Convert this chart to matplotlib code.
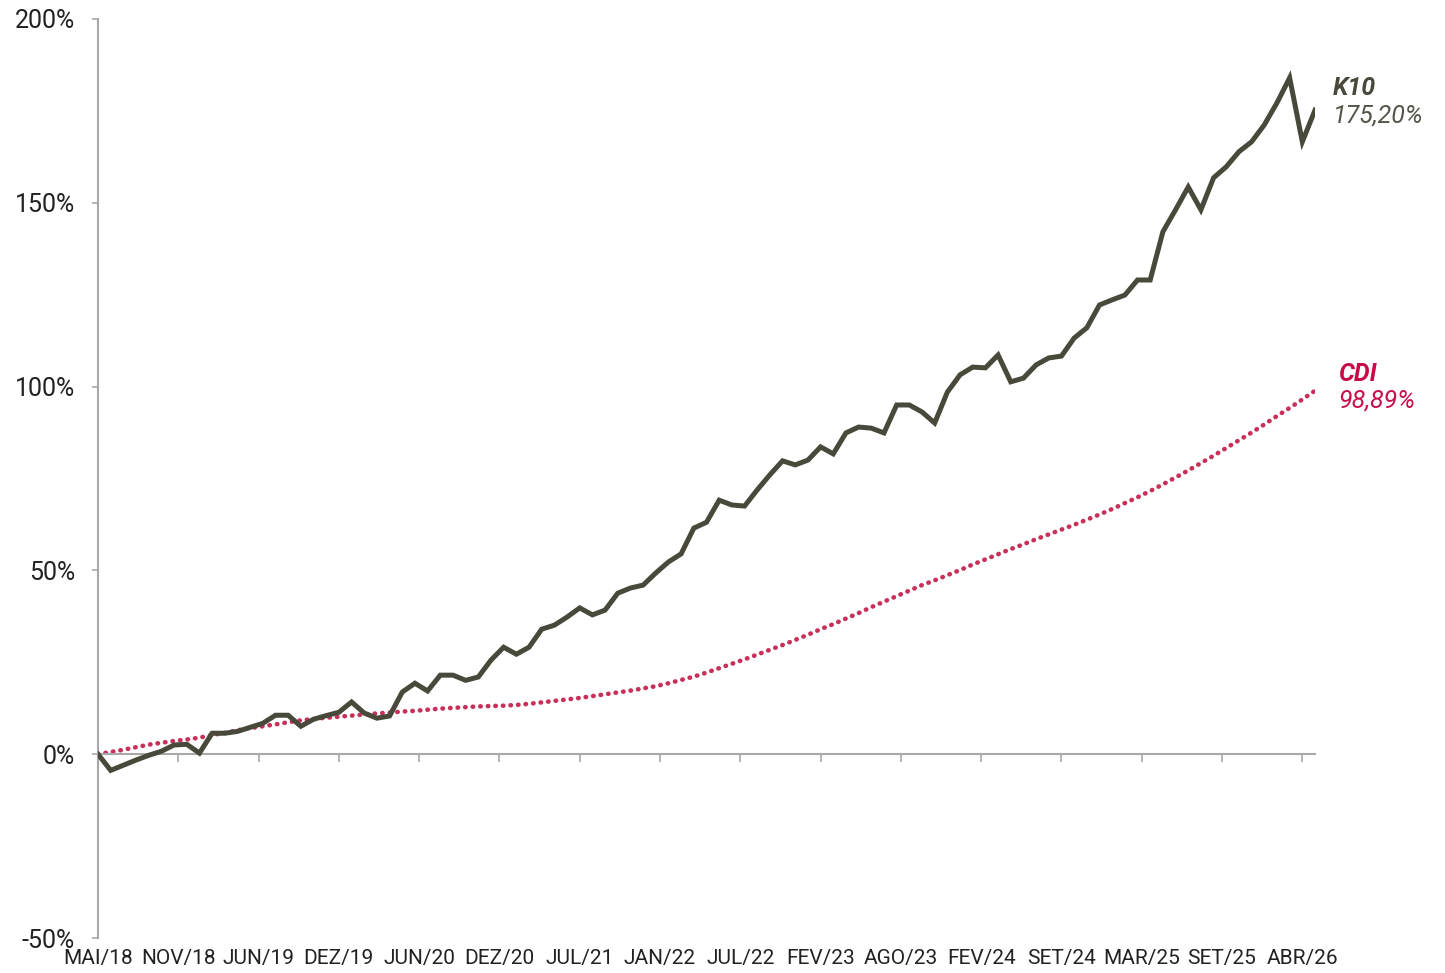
import numpy as np
import matplotlib
matplotlib.use("Agg")
import matplotlib.pyplot as plt

# monthly accumulated return (%), MAI/18 .. MAI/26
k10 = [0.0, -4.4, -3.0, -1.6, -0.3, 0.8, 2.5, 2.7, 0.3, 5.7,
       5.7, 6.2, 7.3, 8.4, 10.6, 10.6, 7.6, 9.5, 10.5, 11.4,
       14.2, 11.2, 9.8, 10.4, 16.9, 19.3, 17.2, 21.5, 21.5, 20.1,
       21.0, 25.6, 29.1, 27.2, 29.1, 34.0, 35.1, 37.3, 39.8, 37.9,
       39.2, 43.8, 45.2, 46.0, 49.3, 52.3, 54.5, 61.5, 63.1, 69.1,
       67.8, 67.5, 71.9, 76.0, 79.8, 78.7, 80.0, 83.6, 81.7, 87.4,
       89.0, 88.7, 87.4, 95.0, 95.0, 93.1, 90.1, 98.5, 103.2, 105.3,
       105.1, 108.6, 101.3, 102.3, 105.9, 107.8, 108.3, 113.2, 116.0, 122.2,
       123.6, 124.9, 129.0, 129.0, 142.1, 148.1, 154.3, 148.1, 156.8, 159.8,
       163.9, 166.6, 171.2, 177.2, 184.0, 166.6, 175.2]

cdi = [0.0, 0.6, 1.2, 1.9, 2.6, 3.1, 3.6, 4.0, 4.5, 5.2,
       5.8, 6.5, 7.1, 7.6, 8.1, 8.7, 9.2, 9.6, 9.9, 10.2,
       10.5, 10.8, 11.1, 11.3, 11.6, 11.8, 12.1, 12.4, 12.6, 12.8,
       13.0, 13.1, 13.2, 13.4, 13.7, 14.1, 14.5, 14.9, 15.3, 15.8,
       16.3, 16.8, 17.3, 17.9, 18.5, 19.3, 20.2, 21.1, 22.2, 23.4,
       24.6, 25.8, 27.1, 28.4, 29.7, 31.1, 32.5, 34.0, 35.4, 36.9,
       38.4, 40.0, 41.5, 43.0, 44.5, 46.0, 47.3, 48.7, 50.1, 51.6,
       53.0, 54.4, 55.8, 57.1, 58.5, 59.8, 61.1, 62.4, 63.8, 65.2,
       66.7, 68.3, 69.9, 71.6, 73.4, 75.3, 77.2, 79.2, 81.2, 83.3,
       85.4, 87.5, 89.7, 92.0, 94.2, 96.5, 98.89]

x_labels = ["MAI/18", "NOV/18", "JUN/19", "DEZ/19", "JUN/20", "DEZ/20",
            "JUL/21", "JAN/22", "JUL/22", "FEV/23", "AGO/23", "FEV/24",
            "SET/24", "MAR/25", "SET/25", "ABR/26"]
y_ticks = [-50, 0, 50, 100, 150, 200]

k10_color = "#48493a"
cdi_color = "#c8305a"
axis_color = "#a8a8a8"

plt.rcParams["font.family"] = ["Roboto", "DejaVu Sans"]

fig = plt.figure(figsize=(14.45, 9.73), dpi=100)
ax = fig.add_axes([98 / 1445, 1 - 938 / 973, (1315 - 98) / 1445, (938 - 19) / 973])

months = np.arange(len(k10))
ax.plot(months, cdi, color=cdi_color, lw=3.3, linestyle=(0, (0.1, 1.55)),
        dash_capstyle="round", zorder=2)
ax.plot(months, k10, color=k10_color, lw=3.6, solid_joinstyle="miter", zorder=3)

ax.set_xlim(0, len(k10) - 1)
ax.set_ylim(-50, 200)

# spines: left one in gray, bottom one sits on the 0% line
for s in ["top", "right"]:
    ax.spines[s].set_visible(False)
ax.spines["left"].set_color(axis_color)
ax.spines["left"].set_linewidth(1.5)
ax.spines["bottom"].set_position(("data", 0))
ax.spines["bottom"].set_color(axis_color)
ax.spines["bottom"].set_linewidth(1.5)

ax.set_yticks(y_ticks)
ax.set_yticklabels([f"{v}%" for v in y_ticks])
ax.tick_params(axis="y", direction="out", length=4.5, width=1.2, color=axis_color,
               pad=12, labelsize=18, labelcolor="#222222")

tick_pos = np.linspace(0, 95, len(x_labels))
ax.set_xticks(tick_pos)
ax.tick_params(axis="x", direction="out", length=6, width=1.2, color=axis_color,
               labelbottom=False)
for p, lab in zip(tick_pos, x_labels):
    ax.text(p, -0.022, lab, transform=ax.get_xaxis_transform(), ha="center",
            va="center", fontsize=15, color="#222222",
            family=["Liberation Sans Narrow", "Roboto"])

# end labels
ax.annotate("K10", xy=(1333 / 1445, 1 - 88 / 973), xycoords="figure fraction",
            fontsize=18, fontweight="bold", fontstyle="italic", color=k10_color,
            va="center", ha="left")
ax.annotate("175,20%", xy=(1333 / 1445, 1 - 116 / 973), xycoords="figure fraction",
            fontsize=18, fontstyle="italic", color="#55564a",
            va="center", ha="left")
ax.annotate("CDI", xy=(1338 / 1445, 1 - 374 / 973), xycoords="figure fraction",
            fontsize=18, fontweight="bold", fontstyle="italic", color="#c40d47",
            va="center", ha="left")
ax.annotate("98,89%", xy=(1338 / 1445, 1 - 401 / 973), xycoords="figure fraction",
            fontsize=18, fontstyle="italic", color="#c8104a",
            va="center", ha="left")

fig.savefig("out.png", dpi=100)
